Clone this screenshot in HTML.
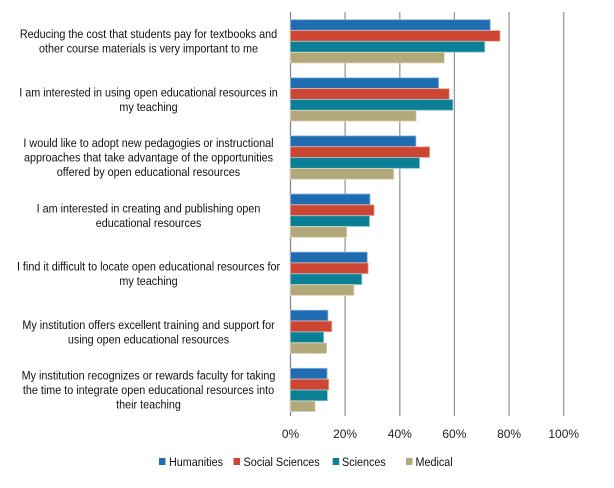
<!DOCTYPE html>
<html><head><meta charset="utf-8"><style>
html,body{margin:0;padding:0;background:#fff;}
svg{display:block;font-family:"Liberation Sans",Arial,sans-serif;}
</style></head><body>
<svg width="614" height="488" viewBox="0 0 614 488" xmlns="http://www.w3.org/2000/svg">
<g stroke="#9a9a9a" stroke-width="1.3">
<line x1="345.1" y1="12" x2="345.1" y2="416"/>
<line x1="399.8" y1="12" x2="399.8" y2="416"/>
<line x1="454.4" y1="12" x2="454.4" y2="416"/>
<line x1="509.1" y1="12" x2="509.1" y2="416"/>
<line x1="563.7" y1="12" x2="563.7" y2="416"/>
</g>
<line x1="290.5" y1="12" x2="290.5" y2="416" stroke="#888" stroke-width="1.3"/>
<g stroke-width="0.8">
<g fill="#1f6db0" stroke="#8fb6dd">
<rect x="290.5" y="19.7" width="199.7" height="10.6"/>
<rect x="290.5" y="77.8" width="148.1" height="10.6"/>
<rect x="290.5" y="135.9" width="125.4" height="10.6"/>
<rect x="290.5" y="194.0" width="79.5" height="10.6"/>
<rect x="290.5" y="252.1" width="76.8" height="10.6"/>
<rect x="290.5" y="310.2" width="37.4" height="10.6"/>
<rect x="290.5" y="368.3" width="36.6" height="10.6"/>
</g>
<g fill="#cc4633" stroke="#e8a396">
<rect x="290.5" y="30.6" width="209.5" height="10.6"/>
<rect x="290.5" y="88.7" width="158.7" height="10.6"/>
<rect x="290.5" y="146.8" width="139.1" height="10.6"/>
<rect x="290.5" y="204.9" width="83.6" height="10.6"/>
<rect x="290.5" y="263.0" width="77.6" height="10.6"/>
<rect x="290.5" y="321.1" width="41.3" height="10.6"/>
<rect x="290.5" y="379.2" width="38.2" height="10.6"/>
</g>
<g fill="#0a7f96" stroke="#80c0cc">
<rect x="290.5" y="41.5" width="194.2" height="10.6"/>
<rect x="290.5" y="99.6" width="162.3" height="10.6"/>
<rect x="290.5" y="157.7" width="129.0" height="10.6"/>
<rect x="290.5" y="215.8" width="79.0" height="10.6"/>
<rect x="290.5" y="273.9" width="71.3" height="10.6"/>
<rect x="290.5" y="332.0" width="33.1" height="10.6"/>
<rect x="290.5" y="390.1" width="36.9" height="10.6"/>
</g>
<g fill="#b3a87a" stroke="#dcd4bb">
<rect x="290.5" y="52.4" width="153.8" height="10.6"/>
<rect x="290.5" y="110.5" width="125.7" height="10.6"/>
<rect x="290.5" y="168.6" width="103.3" height="10.6"/>
<rect x="290.5" y="226.7" width="56.3" height="10.6"/>
<rect x="290.5" y="284.8" width="63.4" height="10.6"/>
<rect x="290.5" y="342.9" width="36.1" height="10.6"/>
<rect x="290.5" y="401.0" width="24.6" height="10.6"/>
</g>
</g>
<g font-size="12" fill="#222" text-anchor="middle">
<text x="290.5" y="438">0%</text>
<text x="345.1" y="438">20%</text>
<text x="399.8" y="438">40%</text>
<text x="454.4" y="438">60%</text>
<text x="509.1" y="438">80%</text>
<text x="563.7" y="438">100%</text>
</g>
<g font-size="12" fill="#111" text-anchor="middle" transform="translate(148.5 0) scale(0.9 1)">
<text x="0" y="38.2">Reducing the cost that students pay for textbooks and</text>
<text x="0" y="52.7">other course materials is very important to me</text>
<text x="0" y="96.4">I am interested in using open educational resources in</text>
<text x="0" y="110.9">my teaching</text>
<text x="0" y="147.2">I would like to adopt new pedagogies or instructional</text>
<text x="0" y="161.7">approaches that take advantage of the opportunities</text>
<text x="0" y="176.2">offered by open educational resources</text>
<text x="0" y="212.6">I am interested in creating and publishing open</text>
<text x="0" y="227.1">educational resources</text>
<text x="0" y="270.7">I find it difficult to locate open educational resources for</text>
<text x="0" y="285.2">my teaching</text>
<text x="0" y="328.8">My institution offers excellent training and support for</text>
<text x="0" y="343.3">using open educational resources</text>
<text x="0" y="379.6">My institution recognizes or rewards faculty for taking</text>
<text x="0" y="394.1">the time to integrate open educational resources into</text>
<text x="0" y="408.6">their teaching</text>
</g>
<g font-size="12" fill="#111">
<rect x="159" y="458" width="6.5" height="7" fill="#1f6db0"/>
<text transform="translate(169 466) scale(0.9 1)">Humanities</text>
<rect x="233.5" y="458" width="6.5" height="7" fill="#cc4633"/>
<text transform="translate(243.5 466) scale(0.9 1)">Social Sciences</text>
<rect x="332.7" y="458" width="6.5" height="7" fill="#0a7f96"/>
<text transform="translate(342 466) scale(0.9 1)">Sciences</text>
<rect x="406" y="458" width="6.5" height="7" fill="#b3a87a"/>
<text transform="translate(415.5 466) scale(0.9 1)">Medical</text>
</g>
</svg>
</body></html>
